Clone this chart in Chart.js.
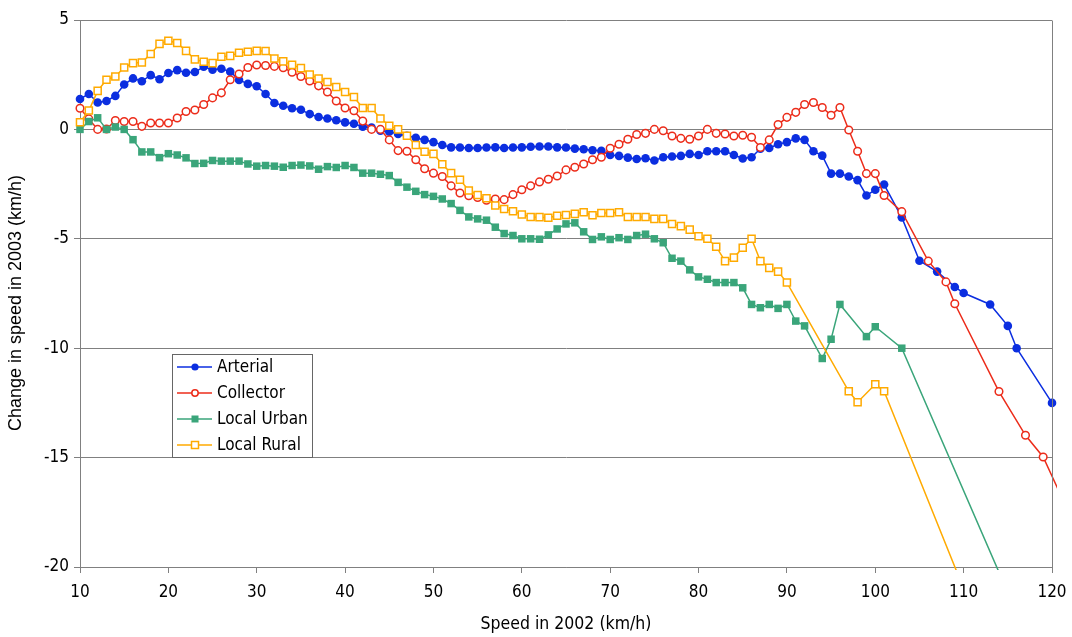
<!DOCTYPE html>
<html>
<head>
<meta charset="utf-8">
<script src="https://cdn.jsdelivr.net/npm/chart.js@4.4.1/dist/chart.umd.min.js"></script>
<style>
  html, body { margin: 0; padding: 0; background: #ffffff; }
  #wrap { width: 1072px; height: 637px; }
</style>
</head>
<body>
<div id="wrap"><canvas id="c" width="1072" height="637"></canvas></div>
<script>
// ---- Data ----
const seriesNames = ["Arterial", "Collector", "Local Urban", "Local Rural"];

const speeds = [
  10, 11, 12, 13, 14, 15, 16, 17, 18, 19,
  20, 21, 22, 23, 24, 25, 26, 27, 28, 29,
  30, 31, 32, 33, 34, 35, 36, 37, 38, 39,
  40, 41, 42, 43, 44, 45, 46, 47, 48, 49,
  50, 51, 52, 53, 54, 55, 56, 57, 58, 59,
  60, 61, 62, 63, 64, 65, 66, 67, 68, 69,
  70, 71, 72, 73, 74, 75, 76, 77, 78, 79,
  80, 81, 82, 83, 84, 85, 86, 87, 88, 89,
  90, 91, 92, 93, 94, 95, 96, 97, 98, 99,
  100, 101, 102, 103, 104, 105, 106, 107, 108, 109,
  110, 111, 112, 113, 114, 115, 116, 117, 118, 119,
  120, 121, 122
];

const arterial = [
  1.39, 1.62, 1.23, 1.30, 1.53, 2.05, 2.33, 2.20, 2.48, 2.29,
  2.58, 2.71, 2.59, 2.62, 2.86, 2.73, 2.77, 2.64, 2.26, 2.08,
  1.97, 1.62, 1.21, 1.08, 0.97, 0.90, 0.70, 0.57, 0.50, 0.42,
  0.32, 0.26, 0.12, 0.09, -0.06, -0.11, -0.21, -0.29, -0.38, -0.48,
  -0.58, -0.71, -0.82, -0.83, -0.85, -0.85, -0.83, -0.82, -0.85, -0.83,
  -0.82, -0.79, -0.78, -0.78, -0.82, -0.83, -0.88, -0.91, -0.95, -0.98,
  -1.17, -1.21, -1.29, -1.35, -1.32, -1.42, -1.27, -1.24, -1.21, -1.12,
  -1.17, -1.00, -1.00, -1.00, -1.17, -1.33, -1.27, -0.88, -0.85, -0.68,
  -0.58, -0.41, -0.48, -1.00, -1.20, -2.02, -2.02, -2.15, -2.32, -3.02,
  -2.76, -2.52, null, -4.02, null, -6.00, null, -6.50, null, -7.20,
  -7.48, null, null, -8.00, null, -8.98, -10.00, null, null, null,
  -12.50, null, -13.80
];

const collector = [
  0.97, 0.48, 0.00, 0.02, 0.41, 0.36, 0.36, 0.14, 0.29, 0.29,
  0.29, 0.52, 0.82, 0.89, 1.14, 1.44, 1.67, 2.27, 2.53, 2.83,
  2.94, 2.92, 2.88, 2.82, 2.61, 2.42, 2.21, 1.99, 1.71, 1.30,
  0.98, 0.85, 0.38, 0.00, 0.00, -0.48, -0.97, -1.00, -1.39, -1.80,
  -2.00, -2.15, -2.58, -2.91, -3.03, -3.11, -3.24, -3.18, -3.21, -2.98,
  -2.76, -2.58, -2.40, -2.28, -2.13, -1.85, -1.73, -1.58, -1.39, -1.27,
  -0.86, -0.68, -0.45, -0.23, -0.18, 0.00, -0.06, -0.30, -0.41, -0.45,
  -0.30, 0.00, -0.18, -0.21, -0.30, -0.27, -0.36, -0.83, -0.48, 0.22,
  0.55, 0.78, 1.14, 1.23, 1.00, 0.65, 1.00, -0.03, -1.00, -2.02,
  -2.02, -3.02, null, -3.76, null, null, -6.02, null, -6.97, -7.97,
  null, null, null, null, -11.98, null, null, -13.98, null, -14.97,
  null, null, -17.60
];

const localUrban = [
  0.00, 0.36, 0.53, 0.00, 0.11, 0.00, -0.47, -1.03, -1.03, -1.29,
  -1.11, -1.17, -1.30, -1.56, -1.55, -1.42, -1.45, -1.45, -1.45, -1.58,
  -1.68, -1.65, -1.68, -1.73, -1.65, -1.63, -1.67, -1.82, -1.70, -1.74,
  -1.65, -1.74, -2.00, -2.00, -2.05, -2.11, -2.42, -2.64, -2.83, -2.98,
  -3.06, -3.18, -3.39, -3.70, -4.00, -4.09, -4.15, -4.47, -4.76, -4.85,
  -5.00, -5.00, -5.02, -4.82, -4.55, -4.32, -4.27, -4.68, -5.03, -4.91,
  -5.03, -4.95, -5.03, -4.85, -4.79, -5.00, -5.18, -5.89, -6.02, -6.42,
  -6.74, -6.85, -7.00, -7.00, -7.00, -7.24, -8.00, -8.15, -8.00, -8.18,
  -8.00, -8.76, -8.98, null, -10.47, -9.59, -8.00, null, null, -9.47,
  -9.02, null, null, -10.00, null, null, null, null, null, null,
  null, null, null, null, null, null, -22.10, null, null, null,
  null, null, null
];

const localRural = [
  0.33, 0.86, 1.76, 2.27, 2.42, 2.83, 3.03, 3.06, 3.45, 3.91,
  4.05, 3.95, 3.59, 3.20, 3.09, 3.03, 3.32, 3.36, 3.50, 3.55,
  3.59, 3.58, 3.24, 3.11, 2.95, 2.80, 2.51, 2.33, 2.17, 1.94,
  1.71, 1.48, 0.98, 0.98, 0.50, 0.17, 0.00, -0.29, -0.71, -1.02,
  -1.12, -1.59, -2.00, -2.30, -2.79, -3.00, -3.15, -3.48, -3.64, -3.74,
  -3.89, -4.00, -4.01, -4.04, -3.95, -3.91, -3.86, -3.79, -3.92, -3.82,
  -3.82, -3.79, -4.00, -4.00, -4.00, -4.09, -4.09, -4.32, -4.42, -4.58,
  -4.88, -5.00, -5.36, -6.02, -5.86, -5.41, -5.00, -6.02, -6.33, -6.50,
  -7.00, null, null, null, null, null, null, -11.97, -12.47, null,
  -11.65, -11.97, null, null, null, null, null, null, null, null,
  null, null, -23.00, null, null, null, null, null, null, null,
  null, null, null
];

const xTicks = [10, 20, 30, 40, 50, 60, 70, 80, 90, 100, 110, 120];
const yTicks = [5, 0, -5, -10, -15, -20];
const xTitle = 'Speed in 2002 (km/h)';
const yTitle = 'Change in speed in 2003 (km/h)';

// ---- Styles ----
const colors = ["#0b2ee0", "#ec2c1a", "#3aa57a", "#ffaa00"];
const narrow = "'Liberation Sans Narrow', 'DejaVu Sans Condensed', 'Roboto Condensed', 'Liberation Sans', sans-serif";

function toPoints(arr) {
  return speeds.map((s, i) => ({ x: s, y: arr[i] })).filter(p => p.y !== null);
}

const clipBox = { left: 6, top: 6, right: 5, bottom: 3 };

const datasets = [
  {
    label: seriesNames[0], data: toPoints(arterial), order: 4,
    borderColor: colors[0], backgroundColor: colors[0], borderWidth: 1.5,
    pointStyle: 'circle', pointRadius: 4.3, pointBorderWidth: 0,
    pointBackgroundColor: colors[0], clip: clipBox
  },
  {
    label: seriesNames[1], data: toPoints(collector), order: 3,
    borderColor: colors[1], backgroundColor: '#ffffff', borderWidth: 1.5,
    pointStyle: 'circle', pointRadius: 3.8, pointBorderWidth: 1.5,
    pointBackgroundColor: '#ffffff', pointBorderColor: colors[1], clip: clipBox
  },
  {
    label: seriesNames[2], data: toPoints(localUrban), order: 2,
    borderColor: colors[2], backgroundColor: colors[2], borderWidth: 1.5,
    pointStyle: 'rect', pointRadius: 5.3, pointBorderWidth: 0,
    pointBackgroundColor: colors[2], clip: clipBox
  },
  {
    label: seriesNames[3], data: toPoints(localRural), order: 1,
    borderColor: colors[3], backgroundColor: '#ffffff', borderWidth: 1.5,
    pointStyle: 'rect', pointRadius: 5.0, pointBorderWidth: 1.5,
    pointBackgroundColor: '#ffffff', pointBorderColor: colors[3], clip: clipBox
  }
];

// Right border of the plot area + rotated y title
const frame = {
  id: 'frame',
  afterDraw(chart) {
    const { ctx, chartArea } = chart;
    ctx.save();
    ctx.strokeStyle = '#808080';
    ctx.lineWidth = 1;
    ctx.beginPath();
    const xr = Math.round(chartArea.right) + 0.5;
    ctx.moveTo(xr, Math.round(chartArea.top) + 0.5);
    ctx.lineTo(xr, Math.round(chartArea.bottom) + 0.5);
    ctx.stroke();
    ctx.translate(16, 303);
    ctx.rotate(-Math.PI / 2);
    ctx.fillStyle = '#000000';
    ctx.font = "18px 'Liberation Sans', Arial, sans-serif";
    ctx.textAlign = 'center';
    ctx.textBaseline = 'middle';
    ctx.fillText(yTitle, 0, 0);
    ctx.restore();
  }
};

// Boxed legend inside the plot area
const boxLegend = {
  id: 'boxLegend',
  afterDraw(chart) {
    const { ctx } = chart;
    const bx = 172.5, by = 354.5, bw = 140, bh = 103;
    ctx.save();
    ctx.fillStyle = '#ffffff';
    ctx.fillRect(bx, by, bw, bh);
    ctx.strokeStyle = '#666666';
    ctx.lineWidth = 1;
    ctx.strokeRect(bx, by, bw, bh);
    const rowY = [367, 393, 419, 445];
    chart.data.datasets.forEach((ds, i) => {
      const y = rowY[i];
      const c = colors[i];
      ctx.strokeStyle = c;
      ctx.lineWidth = 1.5;
      ctx.beginPath();
      ctx.moveTo(177, y);
      ctx.lineTo(212, y);
      ctx.stroke();
      const mx = 195;
      if (i === 0) {
        ctx.fillStyle = c;
        ctx.beginPath(); ctx.arc(mx, y, 3.6, 0, Math.PI * 2); ctx.fill();
      } else if (i === 1) {
        ctx.fillStyle = '#ffffff';
        ctx.beginPath(); ctx.arc(mx, y, 3.2, 0, Math.PI * 2); ctx.fill();
        ctx.strokeStyle = c; ctx.lineWidth = 1.5; ctx.stroke();
      } else if (i === 2) {
        ctx.fillStyle = c;
        ctx.fillRect(mx - 3.5, y - 3.5, 7, 7);
      } else {
        ctx.fillStyle = '#ffffff';
        ctx.fillRect(mx - 3.5, y - 3.5, 7, 7);
        ctx.strokeStyle = c; ctx.lineWidth = 1.5;
        ctx.strokeRect(mx - 3.5, y - 3.5, 7, 7);
      }
      ctx.fillStyle = '#000000';
      ctx.font = "17px " + narrow;
      ctx.textBaseline = 'middle';
      ctx.textAlign = 'left';
      ctx.fillText(ds.label, 217, y + 1);
    });
    ctx.restore();
  }
};

new Chart(document.getElementById('c'), {
  type: 'line',
  data: { datasets },
  plugins: [frame, boxLegend],
  options: {
    responsive: false,
    devicePixelRatio: 1,
    animation: false,
    layout: { padding: { top: 20, right: 20, bottom: 0, left: 0 } },
    plugins: { legend: { display: false }, tooltip: { enabled: false } },
    elements: { line: { tension: 0 } },
    scales: {
      x: {
        type: 'linear', min: 10, max: 120,
        afterFit(s) { s.height = 70; s.paddingLeft = 0; s.paddingRight = 0; },
        afterBuildTicks(s) { s.ticks = xTicks.map(v => ({ value: v })); },
        grid: { drawOnChartArea: false, drawTicks: true, tickLength: 6, color: '#808080' },
        border: { display: true, color: '#808080', width: 1 },
        ticks: { color: '#000000', font: { family: narrow, size: 17 }, padding: 9, maxRotation: 0,
                 callback: v => String(v) },
        title: { display: true, text: xTitle, color: '#000000',
                 font: { family: narrow, size: 17.5 }, padding: { top: 0, bottom: 2 } }
      },
      y: {
        type: 'linear', min: -20, max: 5,
        afterFit(s) { s.width = 80; s.paddingTop = 0; s.paddingBottom = 0; },
        afterBuildTicks(s) { s.ticks = yTicks.map(v => ({ value: v })); },
        grid: { drawOnChartArea: true, drawTicks: true, tickLength: 6, color: '#808080' },
        border: { display: true, color: '#808080', width: 1 },
        ticks: { color: '#000000', font: { family: narrow, size: 17 }, padding: 5,
                 callback: v => String(v) },
        title: { display: false }
      }
    }
  }
});
</script>
</body>
</html>
